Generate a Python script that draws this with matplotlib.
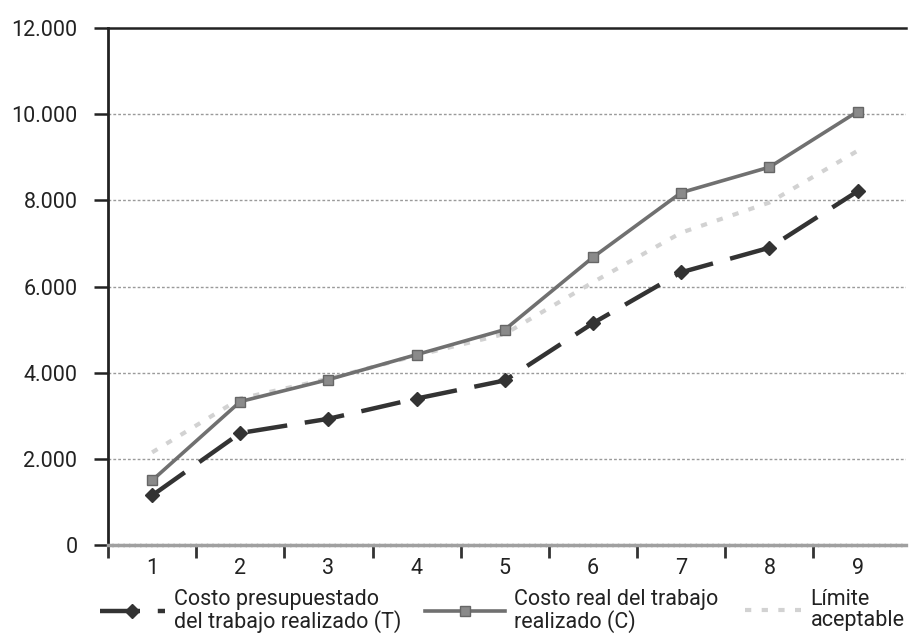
import numpy as np
import matplotlib
matplotlib.use("Agg")
import matplotlib.pyplot as plt
from matplotlib.ticker import FixedLocator

plt.rcParams['font.family'] = ['Roboto', 'DejaVu Sans']

# datos del gráfico
periodos = [1, 2, 3, 4, 5, 6, 7, 8, 9]
costo_presupuestado = [1150, 2600, 2930, 3400, 3820, 5150, 6330, 6900, 8210]
costo_real = [1500, 3330, 3840, 4420, 5000, 6680, 8180, 8770, 10060]
limite_aceptable = [2150, 3400, 3860, 4400, 4900, 6100, 7250, 7950, 9150]
y_ticks = [0, 2000, 4000, 6000, 8000, 10000, 12000]
y_labels = ["0", "2.000", "4.000", "6.000", "8.000", "10.000", "12.000"]
series_labels = ["Costo presupuestado\ndel trabajo realizado (T)",
                 "Costo real del trabajo\nrealizado (C)",
                 "Límite\naceptable"]

fig = plt.figure(figsize=(9.11, 6.35), dpi=100)
ax = fig.add_axes([0.1186, 0.1417, 0.876, 0.8142])

# líneas
l_lim, = ax.plot(periodos, limite_aceptable, color='#d2d2d2', lw=3,
                 linestyle=(0, (1.5, 2.5)), zorder=3)
l_real, = ax.plot(periodos, costo_real, color='#707070', lw=2.6,
                  marker='s', ms=7, mfc='#8a8a8a', mec='#666666', zorder=4)
l_pres, = ax.plot(periodos, costo_presupuestado, color='#333333', lw=3.2,
                  linestyle=(0, (9, 4)), marker='D', ms=7,
                  mfc='#333333', mec='#333333', zorder=5)

ax.set_xlim(0.5, 9.55)
ax.set_ylim(0, 12000)

# ejes y rejilla
ax.set_yticks(y_ticks)
ax.set_yticklabels(y_labels, fontsize=15.5, color='#222222')
for y in y_ticks[1:-1]:
    ax.axhline(y, color='#9a9a9a', lw=1, linestyle=(0, (2, 1.5)), zorder=1)

ax.set_xticks(periodos)
ax.set_xticklabels([str(p) for p in periodos], fontsize=15.5, color='#222222')
ax.xaxis.set_minor_locator(FixedLocator(np.arange(0.5, 9.0, 1.0)))
ax.tick_params(axis='x', which='major', length=0, pad=9)
ax.tick_params(axis='x', which='minor', length=9, width=2, color='#333333',
               direction='out')
ax.tick_params(axis='y', length=10, width=1.8, color='#222222', pad=12)

ax.spines['right'].set_visible(False)
ax.spines['top'].set_color('#222222')
ax.spines['top'].set_linewidth(1.8)
ax.spines['left'].set_color('#222222')
ax.spines['left'].set_linewidth(2)
ax.spines['bottom'].set_color('#a0a0a0')
ax.spines['bottom'].set_linewidth(2.5)
ax.spines['bottom'].set_linestyle((0, (1, 0.6)))

# leyenda en tres bloques
handles = [l_pres, l_real, l_lim]
x_pos = [100 / 911, 425 / 911, 745 / 911]
lengths = [3.0, 3.7, 2.6]
for h, lab, xp, hl in zip(handles, series_labels, x_pos, lengths):
    leg = fig.legend([h], [lab], loc='upper left',
                     bbox_to_anchor=(xp, 1 - 589 / 635), frameon=False,
                     fontsize=15.5, handlelength=hl, handletextpad=0.45,
                     borderpad=0, borderaxespad=0, labelspacing=0)
    for t in leg.get_texts():
        t.set_color('#222222')
        t.set_linespacing(1.0)

fig.savefig("out.png", dpi=100)
